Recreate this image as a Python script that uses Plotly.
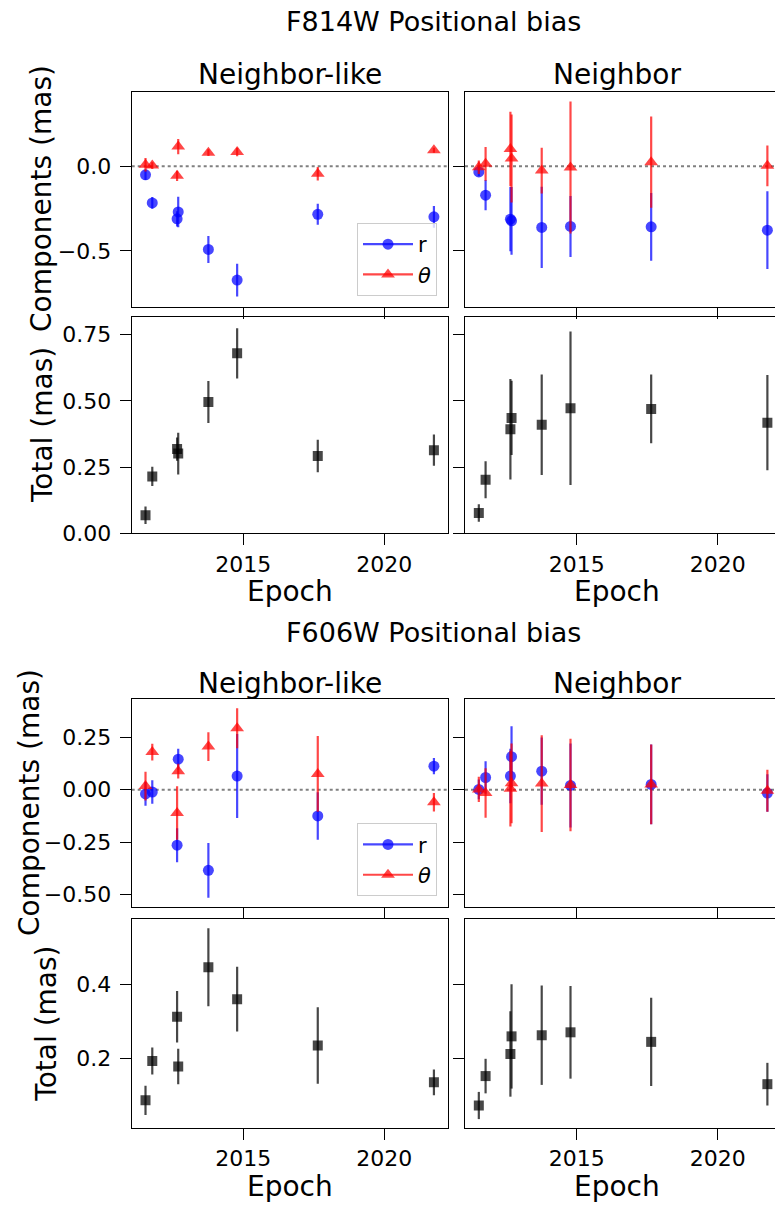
import plotly.graph_objects as go

# ---- data (mas) ----
epochs = [2011.53, 2011.77, 2012.65, 2012.69, 2013.76, 2014.78, 2017.64, 2021.76]

# F814W, Neighbor-like
f814_nl_r = [-0.051, -0.217, -0.311, -0.270, -0.492, -0.673, -0.284, -0.299]
f814_nl_r_err = [0.030, 0.035, 0.045, 0.090, 0.080, 0.097, 0.062, 0.064]
f814_nl_t = [0.008, 0.004, -0.057, 0.116, 0.080, 0.084, -0.045, 0.094]
f814_nl_t_err = [0.040, 0.020, 0.030, 0.045, 0.020, 0.025, 0.040, 0.015]
f814_nl_tot = [0.068, 0.215, 0.318, 0.301, 0.496, 0.680, 0.292, 0.314]
f814_nl_tot_err = [0.033, 0.036, 0.044, 0.079, 0.079, 0.095, 0.061, 0.059]

# F814W, Neighbor
f814_nb_r = [-0.034, -0.171, -0.313, -0.323, -0.362, -0.356, -0.358, -0.378]
f814_nb_r_err = [0.026, 0.090, 0.190, 0.200, 0.240, 0.180, 0.200, 0.230]
f814_nb_t = [-0.006, 0.014, 0.102, 0.045, -0.026, -0.008, 0.024, 0.002]
f814_nb_t_err = [0.040, 0.100, 0.220, 0.260, 0.135, 0.390, 0.270, 0.120]
f814_nb_tot = [0.077, 0.202, 0.393, 0.436, 0.410, 0.472, 0.470, 0.418]
f814_nb_tot_err = [0.033, 0.070, 0.190, 0.140, 0.190, 0.290, 0.130, 0.180]

# F606W, Neighbor-like
f606_nl_r = [-0.020, -0.011, -0.264, 0.145, -0.384, 0.065, -0.125, 0.112]
f606_nl_r_err = [0.056, 0.056, 0.081, 0.050, 0.130, 0.200, 0.113, 0.039]
f606_nl_t = [0.017, 0.179, -0.111, 0.088, 0.205, 0.292, 0.075, -0.060]
f606_nl_t_err = [0.068, 0.040, 0.127, 0.035, 0.068, 0.095, 0.180, 0.044]
f606_nl_tot = [0.085, 0.192, 0.312, 0.177, 0.447, 0.360, 0.234, 0.134]
f606_nl_tot_err = [0.040, 0.037, 0.070, 0.048, 0.106, 0.088, 0.104, 0.035]

# F606W, Neighbor
f606_nb_r = [0.001, 0.058, 0.065, 0.157, 0.088, 0.020, 0.025, -0.016]
f606_nb_r_err = [0.047, 0.077, 0.130, 0.145, 0.160, 0.200, 0.190, 0.089]
f606_nb_t = [0.001, -0.016, 0.005, 0.030, 0.029, 0.022, 0.025, -0.005]
f606_nb_t_err = [0.060, 0.118, 0.180, 0.190, 0.230, 0.220, 0.190, 0.100]
f606_nb_tot = [0.071, 0.151, 0.211, 0.259, 0.262, 0.270, 0.244, 0.129]
f606_nb_tot_err = [0.037, 0.047, 0.116, 0.142, 0.135, 0.126, 0.120, 0.058]

filters = ["F814W", "F606W"]
panel_titles = ["Neighbor-like", "Neighbor"]
year_ticks = [2015, 2020]

# ---- figure geometry (pixels) ----
W, H = 775, 1204
FONT = "DejaVu Sans"
BLUE = "rgba(0,0,255,0.72)"
RED = "rgba(255,0,0,0.72)"
BLACK = "rgba(0,0,0,0.72)"

# the lower block is laid out slightly tighter so its x label fits the page
SPLIT, SQUEEZE = 560.0, 0.972


def px(x):
    return x / W


def py(y, squeeze=True):
    if squeeze and y > SPLIT:
        y = SPLIT + (y - SPLIT) * SQUEEZE
    return 1 - y / H


col_px = [(131.7, 448.3), (465.0, 775.0)]
row_px = [(91.7, 306.7), (317.3, 533.3), (702.7, 916.7), (929.0, 1144.3)]
x_ranges = [[2011.04, 2022.27], [2011.04, 2022.03]]
y_ranges = [[-0.83, 0.44], [0.0, 0.816], [-0.557, 0.433], [0.01, 0.579]]
y_ticks = [[-0.5, 0.0], [0.0, 0.25, 0.5, 0.75], [-0.5, -0.25, 0.0, 0.25], [0.2, 0.4]]
y_fmt = [".1f", ".2f", ".2f", ".1f"]

fig = go.Figure()
layout = {}

panels = [(r, c) for r in range(4) for c in range(2)]

comp_data = {
    (0, 0): (f814_nl_r, f814_nl_r_err, f814_nl_t, f814_nl_t_err),
    (0, 1): (f814_nb_r, f814_nb_r_err, f814_nb_t, f814_nb_t_err),
    (2, 0): (f606_nl_r, f606_nl_r_err, f606_nl_t, f606_nl_t_err),
    (2, 1): (f606_nb_r, f606_nb_r_err, f606_nb_t, f606_nb_t_err),
}
tot_data = {
    (1, 0): (f814_nl_tot, f814_nl_tot_err),
    (1, 1): (f814_nb_tot, f814_nb_tot_err),
    (3, 0): (f606_nl_tot, f606_nl_tot_err),
    (3, 1): (f606_nb_tot, f606_nb_tot_err),
}

shapes = []
for i, (r, c) in enumerate(panels):
    n = i + 1
    xname = "xaxis" if n == 1 else f"xaxis{n}"
    yname = "yaxis" if n == 1 else f"yaxis{n}"
    xref = "x" if n == 1 else f"x{n}"
    yref = "y" if n == 1 else f"y{n}"
    is_total = r in (1, 3)
    layout[xname] = dict(
        domain=[px(col_px[c][0]), px(col_px[c][1])],
        range=x_ranges[c], anchor=yref,
        tickvals=year_ticks, ticks="outside", ticklen=11, tickwidth=1.3,
        tickcolor="black", showticklabels=is_total,
        tickfont=dict(family=FONT, size=22, color="black"),
        showline=True, linecolor="black", linewidth=1.2, mirror=True,
        showgrid=False, zeroline=False, automargin=False,
    )
    layout[yname] = dict(
        domain=[py(row_px[r][1]), py(row_px[r][0])],
        range=y_ranges[r], anchor=xref,
        tickvals=y_ticks[r], tickformat=y_fmt[r], ticks="outside",
        ticklen=11, tickwidth=1.3, tickcolor="black",
        showticklabels=(c == 0), ticklabelstandoff=4,
        tickfont=dict(family=FONT, size=22, color="black"),
        showline=True, linecolor="black", linewidth=1.2, mirror=(c == 0),
        showgrid=False, zeroline=False, automargin=False,
    )
    if (r, c) in comp_data:
        rv, re, tv, te = comp_data[(r, c)]
        shapes.append(dict(type="line", xref=f"{xref} domain", yref=yref,
                           x0=0, x1=1, y0=0, y1=0,
                           line=dict(color="gray", width=2, dash="dot"),
                           layer="below"))
        fig.add_trace(go.Scatter(
            x=epochs, y=rv, mode="markers", xaxis=xref, yaxis=yref,
            marker=dict(symbol="circle", size=11, color=BLUE),
            error_y=dict(type="data", array=re, thickness=2.2, width=0, color=BLUE),
            showlegend=False, name="r"))
        fig.add_trace(go.Scatter(
            x=epochs, y=tv, mode="markers", xaxis=xref, yaxis=yref,
            marker=dict(symbol="triangle-up", size=12, color=RED),
            error_y=dict(type="data", array=te, thickness=2.2, width=0, color=RED),
            showlegend=False, name="θ"))
        if c == 0:
            leg = "legend" if r == 0 else "legend2"
            fig.add_trace(go.Scatter(
                x=[None], y=[None], mode="lines+markers", xaxis=xref, yaxis=yref,
                marker=dict(symbol="circle", size=11, color=BLUE),
                line=dict(color=BLUE, width=2.2), name="r", legend=leg))
            fig.add_trace(go.Scatter(
                x=[None], y=[None], mode="lines+markers", xaxis=xref, yaxis=yref,
                marker=dict(symbol="triangle-up", size=12, color=RED),
                line=dict(color=RED, width=2.2), name="<i>θ</i>", legend=leg))
    else:
        tv, te = tot_data[(r, c)]
        fig.add_trace(go.Scatter(
            x=epochs, y=tv, mode="markers", xaxis=xref, yaxis=yref,
            marker=dict(symbol="square", size=10, color=BLACK),
            error_y=dict(type="data", array=te, thickness=2.2, width=0, color=BLACK),
            showlegend=False, name="total"))

annotations = []


def label(text, x, y, size=28, angle=0, squeeze=True):
    annotations.append(dict(text=text, x=px(x), y=py(y, squeeze), xref="paper",
                            yref="paper", showarrow=False, xanchor="center",
                            yanchor="middle", textangle=angle,
                            font=dict(family=FONT, size=size, color="black")))


# figure-level titles, column titles and x labels
for k, (ysup, ytitle) in enumerate([(21, 74), (635, 687)]):
    label(f"{filters[k]} Positional bias", 433, ysup, size=27)
    label(panel_titles[0], 290, ytitle)
    label(panel_titles[1], 617, ytitle)

label("Epoch", 290, 591, squeeze=False)
label("Epoch", 617, 591, squeeze=False)
label("Epoch", 290, 1186, squeeze=False)
label("Epoch", 617, 1186, squeeze=False)

label("Components (mas)", 42, 199, angle=-90)
label("Total (mas)", 42, 425, angle=-90)
label("Components (mas)", 29, 810, angle=-90)
label("Total (mas)", 47, 1037, angle=-90)

legend_style = dict(
    xanchor="right", yanchor="bottom", bgcolor="rgba(255,255,255,0.8)",
    bordercolor="#cccccc", borderwidth=1, itemwidth=50,
    font=dict(family=FONT, size=21, color="black"), tracegroupgap=0,
)

fig.update_layout(
    width=W, height=H, margin=dict(l=0, r=0, t=0, b=0),
    paper_bgcolor="white", plot_bgcolor="white",
    font=dict(family=FONT, color="black"),
    shapes=shapes, annotations=annotations,
    legend=dict(x=px(437), y=py(296), **legend_style),
    legend2=dict(x=px(437), y=py(906), **legend_style),
    **layout,
)

fig.write_html("out.html")
